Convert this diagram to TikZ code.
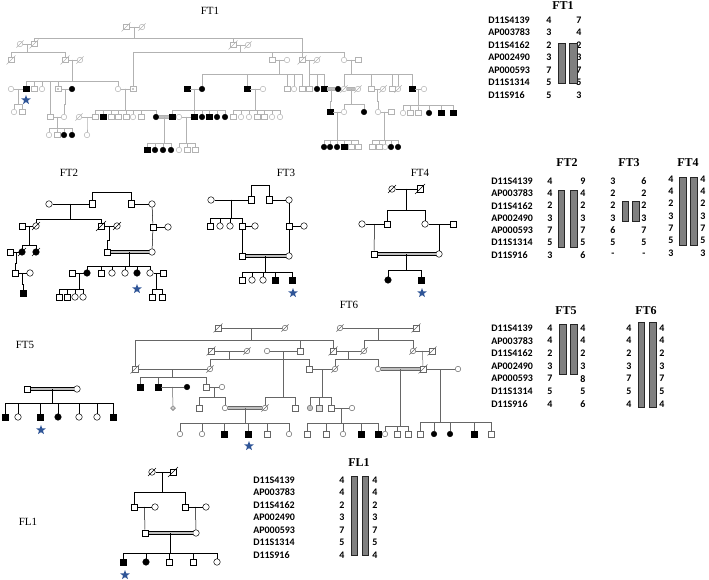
\documentclass[tikz,border=0pt]{standalone}
\usepackage{fontspec}
\setmainfont{Liberation Serif}
\newfontfamily\lab{Carlito}
\usepackage{tikz}
\usetikzlibrary{shapes.geometric, calc}
\definecolor{starblue}{RGB}{47,85,151}
\newcommand{\symsize}{6.5pt}
\tikzstyle{male} = [rectangle, draw, minimum size=\symsize, inner sep=0pt]
\tikzstyle{female} = [circle, draw, minimum size=\symsize, inner sep=0pt]
\tikzstyle{mA} = [male, draw=black, fill=black]
\tikzstyle{fA} = [female, draw=black, fill=black]
\tikzstyle{dec} = [append after command={([shift={(-1.5pt,-1.5pt)}]\tikzlastnode.south west) edge ([shift={(1.5pt,1.5pt)}]\tikzlastnode.north east)}]
\tikzstyle{mD} = [male, dec]
\tikzstyle{fD} = [female, dec]
\tikzstyle{fAD} = [fA, dec]
\tikzstyle{mC} = [male, path picture={\fill (path picture bounding box.center) circle (1.1pt);}]
\tikzstyle{proband} = [star, star points=5, star point ratio=2.4, fill=starblue, minimum size=10pt, inner sep=0pt]
\tikzstyle{cons} = [line width=0.7pt, double=gray!50, double distance=2pt]
\tikzstyle{pedttl} = [font=\fontsize{11}{13}\selectfont]
\tikzstyle{hapttl} = [font=\bfseries\fontsize{12}{14}\selectfont]
\tikzstyle{locus} = [anchor=west, inner sep=0pt, font=\lab\bfseries\fontsize{10}{12}\selectfont]
\tikzstyle{allele} = [inner sep=0pt, font=\lab\bfseries\fontsize{10}{12}\selectfont]
\tikzstyle{hapbar} = [fill=black!50, draw=black!85, line width=0.6pt]
% marriage line with a named midpoint
\newcommand{\couple}[4][]{\draw[#1] (#2) -- (#3); \coordinate (#4) at ($(#2)!0.5!(#3)$);}
% sibship line from a parent point down to the children
\newcommand{\kids}[3]{\foreach \k in {#3} {\draw (#1) -- (#1 |- 0,#2) -- (\k |- 0,#2) -- (\k.north);}}

\begin{document}
\begin{tikzpicture}[x=1pt, y=-1pt, line width=0.5pt]
\useasboundingbox (0,0) rectangle (709,580);

    % FT1 pedigree
    \node[pedttl] (ft1) at (210,11) {FT1};
    \begin{scope}[color=gray!60]
    \renewcommand{\symsize}{5.5pt}
    \node[mD] (a1) at (126,27) {};
    \node[fD] (a2) at (142,27) {};
    \node[fD] (a3) at (20,44) {};
    \node[mD] (a4) at (34,44) {};
    \node[mD] (a5) at (233,45) {};
    \node[fD] (a6) at (248,45) {};
    \node[mD] (a7) at (302,60) {};
    \node[fD] (a8) at (317,60) {};
    \node[mD] (a9) at (11,60) {};
    \node[mD] (a10) at (65,60) {};
    \node[fD] (a11) at (80,60) {};
    \node[male] (a12) at (272,60) {};
    \node[female] (a13) at (287,60) {};
    \node[female] (a14) at (344,60) {};
    \node[male] (a15) at (358,60) {};
    \foreach \n/\x/\s in {16/11/female, 17/26/mA, 18/34/male, 19/42/female, 21/58/mC, 22/72/fA, 23/118/female, 24/133/mC, 25/187/mA, 26/202/fA, 27/247/mA, 28/263/female, 29/287/male, 30/294/female, 31/302/male, 32/309/male, 33/317/fA, 34/324/mA, 35/338/fA, 36/344/fD, 37/358/fD, 38/371/male, 39/383/fD, 40/392/male, 41/398/fD, 42/412/mA, 43/424/female}
        \node[\s] (a\n) at (\x,89) {};
    \node[female] (a44) at (14,112) {};
    \node[male] (a45) at (22,112) {};
    \node[male] (a20) at (50,117) {};
    \node[female] (a46) at (64,117) {};
    \foreach \n/\x/\s in {47/79/fD, 48/95/male, 49/103/mA, 50/111/male, 51/118/male, 52/126/male, 53/133/female, 54/141/male, 55/156/fA, 56/172/mA, 57/179/female, 58/194/mA, 59/202/fA, 60/209/mA, 61/217/fA, 62/225/fA, 63/233/male, 64/241/female, 65/249/female, 66/257/male, 67/264/male, 68/272/female, 69/280/female}
        \node[\s] (a\n) at (\x,117) {};
    \foreach \n/\x/\s in {70/330/mA, 71/344/female, 72/364/fA, 73/378/female, 74/391/male}
        \node[\s] (a\n) at (\x,112) {};
    \foreach \n/\x/\s in {75/403/female, 76/410/male, 77/418/male, 78/429/fA, 79/441/mA, 80/453/mA}
        \node[\s] (a\n) at (\x,113) {};
    \foreach \n/\x/\s in {81/49/female, 82/57/male, 83/64/fA, 84/72/fA, 85/87/female}
        \node[\s] (a\n) at (\x,135) {};
    \foreach \n/\x/\s in {86/147/mA, 87/155/fA, 88/163/fA, 89/171/fA, 90/179/female, 91/187/male, 92/195/male}
        \node[\s] (a\n) at (\x,150) {};
    \foreach \n/\x/\s in {93/324/fA, 94/330/fA, 95/337/fA, 96/344/mA, 97/351/male, 98/358/male, 99/372/male, 100/379/male, 101/385/female, 102/391/fA, 103/398/fA}
        \node[\s] (a\n) at (\x,147) {};

    % FT1 lines
    \couple{a1}{a2}{ma1}
    \couple{a3}{a4}{ma2}
    \couple{a5}{a6}{ma3}
    \couple{a7}{a8}{ma4}
    \couple{a10}{a11}{ma5}
    \couple{a12}{a13}{ma6}
    \couple{a14}{a15}{ma7}
    \couple{a16}{a17}{ma10}
    \couple{a21}{a22}{ma11}
    \couple{a23}{a24}{ma13}
    \couple{a25}{a26}{ma8}
    \couple{a27}{a28}{ma9}
    \couple[cons]{a34}{a35}{ma17}
    \couple[cons]{a36}{a37}{ma18}
    \couple{a38}{a39}{ma19}
    \couple{a42}{a43}{ma20}
    \couple{a20}{a46}{ma12}
    \couple{a47}{a48}{ma14}
    \couple[cons]{a55}{a56}{ma15}
    \couple{a57}{a58}{ma16}
    \couple{a70}{a71}{ma21}
    \couple{a73}{a74}{ma22}
    \kids{ma1}{38}{a4,a5,a7}
    \kids{ma2}{52}{a9,a10}
    \kids{ma3}{52}{a24,a12,a14}
    \kids{ma5}{81}{a17,a18,a19,a20,a21,a23}
    \kids{ma6}{74}{a26,a27,a29,a30,a31}
    \kids{ma4}{74}{a32,a33,a34}
    \kids{ma7}{74}{a36,a38,a40,a41,a42}
    \kids{ma10}{104}{a44,a45}
    \kids{ma11}{104}{a46}
    \kids{ma13}{110}{a48,a49,a50,a51,a52,a53,a54,a55}
    \kids{ma8}{110}{a56,a58,a59,a60,a61,a62}
    \kids{ma9}{110}{a63,a64,a65,a66,a67,a68,a69}
    \kids{ma17}{101}{a70}
    \kids{ma18}{104}{a71,a72}
    \kids{ma19}{101}{a73}
    \kids{ma20}{105}{a75,a76,a77,a78,a79,a80}
    \kids{ma12}{128}{a81,a82,a83,a84}
    \kids{ma14}{128}{a85}
    \kids{ma15}{143}{a86,a87,a88,a89}
    \kids{ma16}{143}{a90,a91,a92}
    \kids{ma21}{140}{a93,a94,a95,a96,a97,a98}
    \kids{ma22}{140}{a99,a100,a101,a102,a103}
    \end{scope}
    \node[proband] (s1) at (26,100) {};

    % FT2 pedigree
    \node[pedttl] (ft2) at (69,173) {FT2};
    \node[female] (b1) at (49,204) {};
    \node[male] (b2) at (92,204) {};
    \node[male] (b3) at (131,204) {};
    \node[female] (b4) at (152,204) {};
    \node[male] (b5) at (22,226) {};
    \node[fD] (b6) at (36,226) {};
    \node[mD] (b7) at (101,226) {};
    \node[fD] (b8) at (117,226) {};
    \node[male] (b9) at (10,252) {};
    \node[fAD] (b10) at (22,252) {};
    \node[fAD] (b11) at (36,252) {};
    \node[male] (b12) at (15,273) {};
    \node[female] (b13) at (30,273) {};
    \node[mA] (b14) at (23,293) {};
    \node[male] (b15) at (107,252) {};
    \node[male] (b16) at (153,227) {};
    \node[female] (b17) at (168,227) {};
    \node[female] (b18) at (152,252) {};
    \foreach \n/\x/\s in {19/72/male, 20/87/fA, 21/101/male, 22/112/female, 23/125/female, 24/137/fA, 25/150/female, 26/163/male}
        \node[\s] (b\n) at (\x,273) {};
    \foreach \n/\x/\s in {27/59/male, 28/67/male, 29/75/female, 30/83/female, 31/152/male, 32/162/male}
        \node[\s] (b\n) at (\x,297) {};
    \coordinate (bt) at (111,192);
    \kids{bt}{192}{b2,b3}
    \couple{b1}{b2}{mb1}
    \couple{b3}{b4}{mb9}
    \couple{b5}{b6}{mb2}
    \couple{b7}{b8}{mb5}
    \couple{b9}{b10}{mb3}
    \couple{b12}{b13}{mb4}
    \couple{b16}{b17}{mb10}
    \couple[cons]{b15}{b18}{mb6}
    \couple{b19}{b20}{mb7}
    \couple{b25}{b26}{mb8}
    \draw (b4) -- (b16);
    \draw (b16) -- (b18);
    \kids{mb1}{219}{b6,b7}
    \kids{mb2}{245}{b10,b11}
    \kids{mb3}{263}{b12}
    \kids{mb4}{284}{b14}
    \kids{mb5}{240}{b15}
    \kids{mb6}{266}{b20,b21,b22,b23,b24,b25}
    \kids{mb7}{289}{b27,b28,b29,b30}
    \kids{mb8}{289}{b31,b32}
    \node[proband] (s2) at (137,289) {};

    % FT3 pedigree
    \node[pedttl] (ft3) at (286,173) {FT3};
    \node[female] (c0) at (211,200) {};
    \node[male] (c1) at (251,200) {};
    \node[male] (c2) at (269,200) {};
    \node[female] (c3) at (289,200) {};
    \foreach \n/\x/\s in {4/210/male, 5/220/female, 6/230/female, 7/242/male, 8/255/female, 9/289/male, 10/304/female}
        \node[\s] (c\n) at (\x,226) {};
    \node[male] (c11) at (242,256) {};
    \node[female] (c12) at (289,256) {};
    \foreach \n/\x/\s in {13/242/male, 14/252/female, 15/263/female, 16/275/mA, 17/292/mA}
        \node[\s] (c\n) at (\x,280) {};
    \coordinate (ct) at (260,185);
    \kids{ct}{185}{c1,c2}
    \couple{c0}{c1}{mc1}
    \couple{c2}{c3}{mc0}
    \draw (c7) -- (c8);
    \draw (c9) -- (c10);
    \draw (c3) -- (c9);
    \draw (c7) -- (c11);
    \draw (c9) -- (c12);
    \couple[cons]{c11}{c12}{mc2}
    \kids{mc1}{218}{c4,c5,c6,c7}
    \kids{mc2}{272}{c13,c14,c15,c16,c17}
    \node[proband] (s3) at (293,293) {};

    % FT4 pedigree
    \node[pedttl] (ft4) at (420,173) {FT4};
    \node[fD] (d1) at (392,189) {};
    \node[mD] (d2) at (420,189) {};
    \node[female] (d3) at (362,224) {};
    \node[male] (d4) at (387,224) {};
    \node[female] (d5) at (425,224) {};
    \node[male] (d6) at (453,224) {};
    \node[male] (d7) at (374,254) {};
    \node[female] (d8) at (439,254) {};
    \node[fA] (d9) at (388,280) {};
    \node[mA] (d10) at (421,280) {};
    \couple{d1}{d2}{md1}
    \couple{d3}{d4}{md2}
    \couple{d5}{d6}{md3}
    \couple[cons]{d7}{d8}{md4}
    \kids{md1}{210}{d4,d5}
    \draw (md2) -- (d7);
    \draw (md3) -- (d8);
    \kids{md4}{270}{d9,d10}
    \node[proband] (s4) at (422,293) {};

    % FT5 pedigree
    \node[pedttl] (ft5) at (25,345) {FT5};
    \node[male] (e1) at (27,389) {};
    \node[female] (e2) at (77,389) {};
    \foreach \n/\x/\s in {3/5/mA, 4/18/female, 5/40/mA, 6/58/fA, 7/79/female, 8/97/female, 9/113/mA}
        \node[\s] (e\n) at (\x,417) {};
    \couple[cons]{e1}{e2}{me1}
    \kids{me1}{403}{e3,e4,e5,e6,e7,e8,e9}
    \node[proband] (s5) at (41,430) {};

    % FT6 pedigree
    \node[pedttl] (ft6) at (349,305) {FT6};
    \begin{scope}[color=black!60]
    \renewcommand{\symsize}{5.5pt}
    \node[mD] (g1) at (218,328) {};
    \node[fD] (g2) at (285,328) {};
    \node[fD] (g6) at (340,328) {};
    \node[mD] (g7) at (416,328) {};
    \foreach \n/\x/\s in {10/211/mD, 11/247/fD, 14/267/female, 4/300/male, 5/333/mD, 8/364/fD, 9/413/fD, 33/432/mD}
        \node[\s] (g\n) at (\x,351) {};
    \foreach \n/\x/\s in {3/135/mD, 12/210/fD, 13/309/male, 31/335/fD, 32/378/female, 34/423/mD, 35/458/female}
        \node[\s] (g\n) at (\x,369) {};
    \foreach \n/\x/\s in {15/140/mA, 16/158/mA, 18/187/fA, 17/206/male, 20/222/female}
        \node[\s] (g\n) at (\x,387) {};
    \node[diamond, draw, fill=gray!40, minimum size=5pt, inner sep=0pt] (g19) at (173,408) {};
    \foreach \n/\x/\s in {21/199/male, 22/225/female, 23/265/fD, 24/295/male, 38/331/male, 39/352/female}
        \node[\s] (g\n) at (\x,408) {};
    \node[female, fill=gray!45] (g36) at (310,408) {};
    \node[male, fill=gray!20] (g37) at (319,408) {};
    \foreach \n/\x/\s in {25/180/female, 26/202/female, 27/224/mA, 28/248/mA, 29/267/male, 30/289/female, 40/307/male, 41/326/male, 42/343/female, 43/361/mA, 44/378/mA, 45/385/female, 46/397/male, 47/408/male, 48/420/male, 49/434/fA, 50/450/fA, 51/474/mA, 52/491/male}
        \node[\s] (g\n) at (\x,434) {};

    % FT6 lines
    \couple{g1}{g2}{mg1}
    \couple{g6}{g7}{mg2}
    \couple{g10}{g11}{mg3}
    \couple{g14}{g4}{mg4}
    \couple{g5}{g8}{mg9}
    \couple{g9}{g33}{mg11}
    \couple{g3}{g12}{mg5}
    \couple{g16}{g18}{mg6}
    \couple{g17}{g20}{mg7}
    \couple[cons]{g22}{g23}{mg8}
    \couple{g13}{g31}{mg10}
    \couple[cons]{g32}{g34}{mg13}
    \couple{g34}{g35}{mg14}
    \couple{g38}{g39}{mg12}
    \kids{mg1}{340}{g3,g4,g5}
    \kids{mg2}{340}{g8,g9}
    \kids{mg3}{359}{g12,g13}
    \kids{mg9}{359}{g31,g32}
    \draw (mg11) -- (g34);
    \kids{mg5}{377}{g15,g16,g17}
    \draw (mg6) -- (g19);
    \kids{mg7}{397}{g21,g22}
    \kids{mg4}{397}{g23,g24}
    \kids{mg8}{423}{g25,g26,g27,g28,g29,g30}
    \kids{mg10}{397}{g36,g37,g38}
    \kids{mg12}{423}{g40,g41,g42,g43,g44}
    \kids{mg13}{426}{g45,g46,g47}
    \kids{mg14}{422}{g48,g49,g50,g51,g52}
    \end{scope}
    \node[proband] (s6) at (249,446) {};

    % FL1 pedigree
    \node[pedttl] (fl1) at (28,522) {FL1};
    \node[fD] (h1) at (152,472) {};
    \node[mD] (h2) at (173,472) {};
    \node[male] (h3) at (134,507) {};
    \node[female] (h4) at (155,507) {};
    \node[male] (h5) at (185,507) {};
    \node[female] (h6) at (206,507) {};
    \node[male] (h7) at (145,533) {};
    \node[female] (h8) at (196,533) {};
    \foreach \n/\x/\s in {9/123/mA, 10/146/fA, 11/169/male, 12/193/male, 13/217/female}
        \node[\s] (h\n) at (\x,562) {};
    \couple{h1}{h2}{mh1}
    \couple{h3}{h4}{mh2}
    \couple{h5}{h6}{mh3}
    \couple[cons]{h7}{h8}{mh4}
    \kids{mh1}{492}{h3,h5}
    \draw (mh2) -- (h7);
    \draw (mh3) -- (h8);
    \kids{mh4}{553}{h9,h10,h11,h12,h13}
    \node[proband] (s7) at (125,575) {};

    % haplotypes FT1
    \node[hapttl] (tft1) at (563,6) {FT1};
    \foreach \m/\l/\r [count=\i] in {D11S4139/4/7, AP003783/3/4, D11S4162/2/2, AP002490/3/3, AP000593/7/7, D11S1314/5/5, D11S916/5/3} {
        \pgfmathsetmacro{\yy}{20+12.5*(\i-1)}
        \node[locus] (la\i) at (488,\yy) {\m};
        \node[allele] (ka\i) at (549,\yy) {\l};
        \node[allele] (kb\i) at (579,\yy) {\r};
    }
    \draw[hapbar] (558,43) rectangle (565,83);
    \draw[hapbar] (569,43) rectangle (577,83);

    % haplotypes FT2, FT3, FT4
    \node[hapttl] (tft2) at (567,163) {FT2};
    \node[hapttl] (tft3) at (629,163) {FT3};
    \node[hapttl] (tft4) at (688,163) {FT4};
    \foreach \m/\a/\b/\c/\d/\e/\f [count=\i] in {D11S4139/4/9/3/6/4/4, AP003783/4/4/2/2/4/4, D11S4162/2/2/2/2/2/2, AP002490/3/3/3/3/3/3, AP000593/7/7/6/7/7/7, D11S1314/5/5/5/5/5/5, D11S916/3/6/-/-/3/3} {
        \pgfmathsetmacro{\yy}{181+12.33*(\i-1)}
        \node[locus] (lb\i) at (491,\yy) {\m};
        \node[allele] (kc\i) at (550,\yy) {\a};
        \node[allele] (kd\i) at (583,\yy) {\b};
        \node[allele] (ke\i) at (613,\yy) {\c};
        \node[allele] (kf\i) at (644,\yy) {\d};
        \node[allele] (kg\i) at (671,\yy-2) {\e};
        \node[allele] (kh\i) at (703,\yy-2) {\f};
    }
    \draw[hapbar] (558,190) rectangle (564,247);
    \draw[hapbar] (570,190) rectangle (577,247);
    \draw[hapbar] (622,201) rectangle (628,221);
    \draw[hapbar] (632,201) rectangle (639,221);
    \draw[hapbar] (679,177) rectangle (686,245);
    \draw[hapbar] (690,177) rectangle (697,245);

    % haplotypes FT5, FT6
    \node[hapttl] (tft5) at (566,311) {FT5};
    \node[hapttl] (tft6) at (646,311) {FT6};
    \foreach \m/\a/\b/\c [count=\i] in {D11S4139/4/4/4, AP003783/4/4/4, D11S4162/2/2/2, AP002490/3/3/3, AP000593/7/8/7, D11S1314/5/5/5, D11S916/4/6/4} {
        \pgfmathsetmacro{\yy}{328+12.67*(\i-1)}
        \node[locus] (lc\i) at (491,\yy) {\m};
        \node[allele] (km\i) at (550,\yy) {\a};
        \node[allele] (kn\i) at (583,\yy) {\b};
        \node[allele] (ko\i) at (629,\yy) {\c};
        \node[allele] (kp\i) at (662,\yy) {\c};
    }
    \draw[hapbar] (559,324) rectangle (566,374);
    \draw[hapbar] (570,324) rectangle (577,374);
    \draw[hapbar] (638,322) rectangle (644,407);
    \draw[hapbar] (649,322) rectangle (656,407);

    % haplotypes FL1
    \node[hapttl] (tfl1) at (359,463) {FL1};
    \foreach \m/\a [count=\i] in {D11S4139/4, AP003783/4, D11S4162/2, AP002490/3, AP000593/7, D11S1314/5, D11S916/4} {
        \pgfmathsetmacro{\yy}{480+12.5*(\i-1)}
        \node[locus] (ld\i) at (253,\yy) {\m};
        \node[allele] (kq\i) at (342,\yy) {\a};
        \node[allele] (kr\i) at (375,\yy) {\a};
    }
    \draw[hapbar] (351,476) rectangle (357,555);
    \draw[hapbar] (362,476) rectangle (368,555);

\end{tikzpicture}
\end{document}
